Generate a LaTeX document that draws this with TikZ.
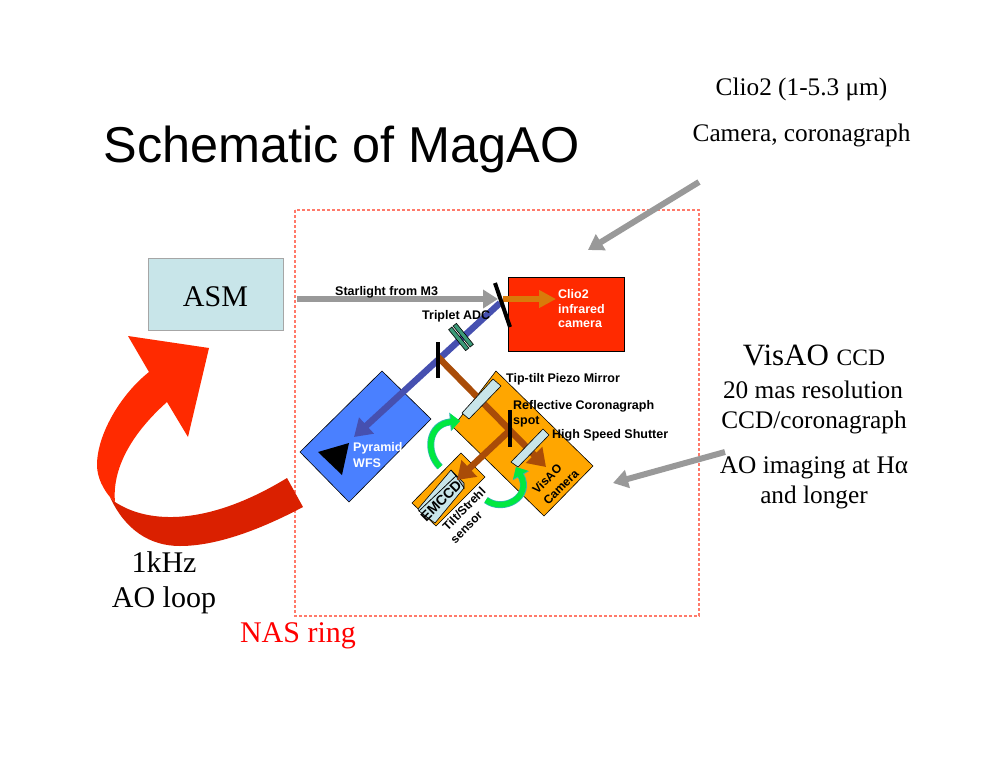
\documentclass[tikz,border=0pt]{standalone}
\usepackage{fontspec}
\setmainfont{Liberation Serif}
\newfontfamily\arialfont{Liberation Sans}
\usetikzlibrary{arrows.meta}
\definecolor{boxblue}{HTML}{C8E5E9}
\definecolor{visorange}{HTML}{FFA600}
\definecolor{pyrblue}{HTML}{4A80FF}
\definecolor{beamblue}{HTML}{4650B0}
\definecolor{beambrown}{HTML}{A94C08}
\definecolor{beamorange}{HTML}{D97A0A}
\definecolor{clored}{HTML}{FF2A00}
\definecolor{foldred}{HTML}{DA2000}
\definecolor{nasred}{HTML}{FF7A6A}
\definecolor{pointgray}{HTML}{999999}
\definecolor{adcgreen}{HTML}{3C9A78}
\definecolor{flipgreen}{HTML}{00E840}
\definecolor{flipedge}{HTML}{30B8B0}
\tikzset{
	seriftext/.style={font=\fontsize{25.3}{25.3}\selectfont, inner sep=0pt, anchor=base},
	seriflarge/.style={font=\fontsize{30}{30}\selectfont, inner sep=0pt, anchor=base},
	tinylabel/.style={font=\arialfont\bfseries\fontsize{12.5}{12.5}\selectfont, inner sep=0pt, anchor=west},
	whitelabel/.style={tinylabel, text=white},
	rotlabel/.style={font=\arialfont\bfseries\fontsize{12}{12}\selectfont, inner sep=0pt, rotate=45},
	thickpointer/.style={draw=pointgray, line width=6pt, -{Triangle[length=15pt, width=18pt]}},
	beamblueline/.style={draw=beamblue, line width=6.5pt, -{Triangle[length=17pt, width=21pt]}},
	beambrownline/.style={draw=beambrown, line width=6.5pt, -{Triangle[length=17pt, width=22pt]}},
	beamorangeline/.style={draw=beamorange, line width=6pt, -{Triangle[length=17pt, width=17pt]}},
	greencurve/.style={draw=flipgreen, line width=5.5pt, -{Triangle[length=9pt, width=16pt]},
		preaction={draw=flipedge, line width=7pt, -{Triangle[length=10pt, width=18pt]}}},
	mirrorbar/.style={line width=4pt, black},
	outlined/.style={draw=black, line width=0.6pt}
}
\begin{document}
\begin{tikzpicture}[x=1pt, y=-1pt]
	\useasboundingbox (0,0) rectangle (999,772);

	% frame and ASM
	\draw[nasred, line width=1.2pt, dash pattern=on 3pt off 2pt] (295,210) rectangle (699,616);
	\node[draw=gray!70, line width=0.8pt, fill=boxblue, minimum width=135pt, minimum height=72pt, inner sep=0pt] (asm) at (215.5,294) {};
	\node[font=\fontsize{30}{30}\selectfont, inner sep=0pt, anchor=base] (asmlabel) at (215.5,306) {ASM};

	% big loop arrow
	\fill[clored] (128,336) -- (209,348) -- (188,437) -- (167,402)
		.. controls (130,435) and (112,470) .. (115,502)
		-- (110,497) .. controls (104,490) and (97,478) .. (97,465)
		.. controls (97,435) and (120,395) .. (149,372) -- cycle;
	\fill[foldred] (287,478) -- (303,507)
		.. controls (250,535) and (210,546) .. (180,546)
		.. controls (150,546) and (125,530) .. (110,497)
		-- (115,502) .. controls (150,525) and (210,525) .. (287,478) -- cycle;

	% boxes
	\node[outlined, fill=clored, minimum width=116pt, minimum height=74pt, inner sep=0pt] (clio) at (566,314) {};
	\draw[outlined, fill=pyrblue] (382,371) -- (431,419) -- (349,502) -- (300,452) -- cycle;
	\fill[black] (318,452) -- (349,443) -- (342,475) -- cycle;
	\draw[outlined, fill=visorange] (496,371) -- (593,466) -- (544,516) -- (453,427) -- cycle;
	\draw[outlined, fill=visorange] (461,453) -- (485,477) -- (436,526) -- (412,503) -- cycle;

	% EMCCD
	\draw[outlined, fill=boxblue] (418,509) -- (451,470) -- (456,476) -- (419,511) -- cycle;
	\draw[outlined, fill=gray!50!boxblue] (451,470) -- (464,483) -- (464,488) -- (456,476) -- cycle;
	\draw[outlined, fill=boxblue] (419,511) -- (456,476) -- (464,488) -- (435,523) -- cycle;
	\node[font=\arialfont\bfseries\fontsize{14}{14}\selectfont, inner sep=0pt, rotate=45] (emccd) at (441,501) {EMCCD};

	\coordinate (starIn) at (297,299);
	\coordinate (starTip) at (498,299);
	\coordinate (cloIn) at (503,299);
	\coordinate (cloTip) at (556,299);
	\coordinate (wfsIn) at (500,303);
	\coordinate (wfsTip) at (354,437);
	\coordinate (splitA) at (438,357);
	\coordinate (visTip) at (546,467);
	\coordinate (splitB) at (508,432);
	\coordinate (emTip) at (457,480);

	\draw[beamblueline] (wfsIn) -- (wfsTip);
	\draw[beambrownline] (splitA) -- (visTip);
	\draw[beambrownline] (splitB) -- (emTip);
	\draw[thickpointer] (starIn) -- (starTip);
	\draw[beamorangeline] (cloIn) -- (cloTip);

	% optics on top of beams
	\draw[outlined, fill=boxblue] (493,379) -- (501,386) -- (469,419) -- (462,413) -- cycle;
	\draw[outlined, fill=boxblue] (543,429) -- (549,435) -- (518,467) -- (511,462) -- cycle;
	\draw[mirrorbar] (495,283) -- (510,327);
	\draw[mirrorbar] (438,342) -- (438,378);
	\draw[mirrorbar] (510,410) -- (510,447);
	\begin{scope}[shift={(461,337)}, rotate=-51]
		\draw[outlined, fill=adcgreen] (-13.5,-5) rectangle (13.5,-0.8);
		\draw[outlined, fill=adcgreen] (-13.5,0.8) rectangle (13.5,5);
	\end{scope}

	% flip mirror arrows
	\coordinate (flipAin) at (440,467);
	\coordinate (flipAtip) at (460,421);
	\coordinate (flipBin) at (486,500);
	\coordinate (flipBtip) at (516,467);
	\draw[greencurve] (flipAin) .. controls (425,452) and (428,424) .. (flipAtip);
	\draw[greencurve] (flipBin) .. controls (503,513) and (533,497) .. (flipBtip);

	% small labels
	\node[tinylabel] (starlabel) at (335,292) {Starlight from M3};
	\node[tinylabel] (adclabel) at (422,316) {Triplet ADC};
	\node[tinylabel] (tiplabel) at (506,379) {Tip-tilt Piezo Mirror};
	\node[tinylabel] (corolabel) at (513,406) {Reflective Coronagraph};
	\node[tinylabel] (spotlabel) at (513,422) {spot};
	\node[tinylabel] (shutlabel) at (552,435) {High Speed Shutter};
	\node[whitelabel] (cliolabel) at (558,294) {Clio2};
	\node[whitelabel] (irlabel) at (558,309) {infrared};
	\node[whitelabel] (camlabel) at (558,324) {camera};
	\node[whitelabel] (pyrlabel) at (353,448) {Pyramid};
	\node[whitelabel] (wfslabel) at (353,463) {WFS};
	\node[rotlabel] (vislabel) at (547,479) {VisAO};
	\node[rotlabel] (camerarot) at (561,487) {Camera};
	\node[rotlabel] (tiltlabel) at (464,509) {Tilt/Strehl};
	\node[rotlabel] (sensorlabel) at (467,528) {sensor};

	% big text
	\node[font=\arialfont\fontsize{50.4}{50.4}\selectfont, inner sep=0pt, anchor=base] (title) at (341.5,162) {Schematic of MagAO};
	\node[seriftext] (cliotop) at (801.5,95) {Clio2 (1-5.3 μm)};
	\node[seriftext] (cliocam) at (801.5,141) {Camera, coronagraph};
	\node[font=\fontsize{31}{31}\selectfont, inner sep=0pt, anchor=base] (vishead) at (814,365) {VisAO {\fontsize{23.5}{23.5}\selectfont CCD}};
	\node[seriftext] (mas) at (813,398) {20 mas resolution};
	\node[seriftext] (ccd) at (814,428) {CCD/coronagraph};
	\node[seriftext] (imaging) at (814,473) {AO imaging at Hα};
	\node[seriftext] (longer) at (814,503) {and longer};
	\node[seriflarge] (khz) at (164,572) {1kHz};
	\node[seriflarge] (loop) at (164,607) {AO loop};
	\node[seriflarge, text=red] (nas) at (298,642) {NAS ring};

	% pointers
	\coordinate (clioFrom) at (699,182);
	\coordinate (clioTo) at (588,250);
	\coordinate (visFrom) at (725,452);
	\coordinate (visTo) at (613,483);
	\draw[thickpointer] (clioFrom) -- (clioTo);
	\draw[thickpointer] (visFrom) -- (visTo);
\end{tikzpicture}
\end{document}
